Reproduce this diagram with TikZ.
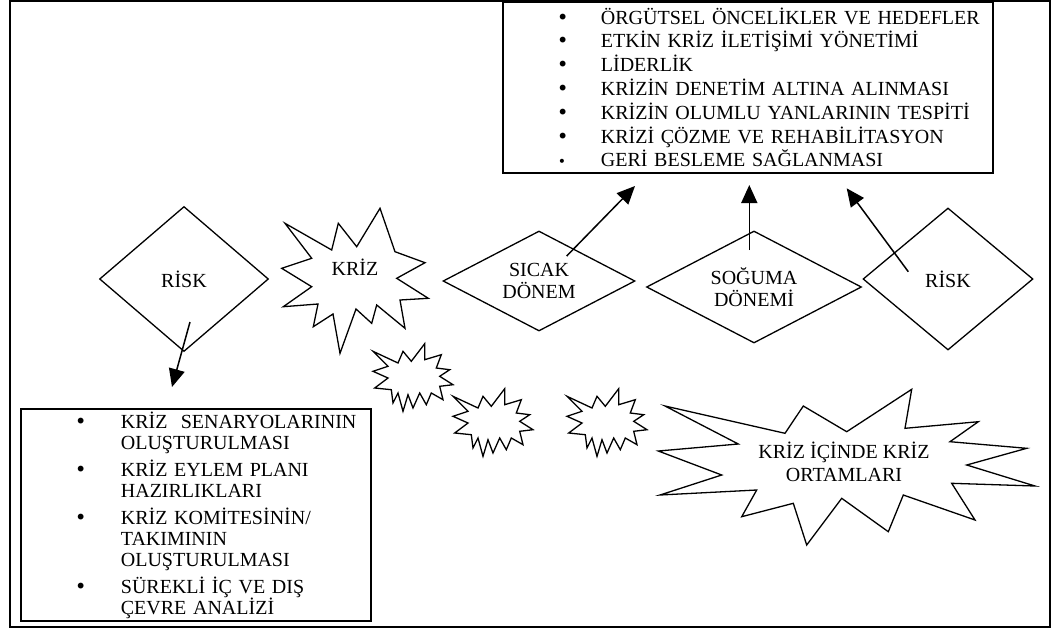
\documentclass[tikz,border=0pt]{standalone}
\usepackage{fontspec}
\setmainfont{Liberation Serif}
\newfontfamily\dotfont{DejaVu Sans}
\usetikzlibrary{shapes.geometric,arrows.meta}

% list bullets: a round dot, and a smaller one
\newcommand\bigdot{{\dotfont\fontsize{20}{20}\selectfont •}}
\newcommand\smalldot{{\dotfont\fontsize{14}{14}\selectfont •}}

\begin{document}
\begin{tikzpicture}[x=1pt,y=-1pt,
  every node/.style={font=\fontsize{20}{21.5}\selectfont},
  outerframe/.style={line width=2.2pt},
  listbox/.style={draw,line width=1.8pt,inner sep=0pt,anchor=north west,align=left},
  phase/.style={diamond,draw,line width=1.3pt,inner sep=0pt,align=center},
  burst/.style={draw,line width=1.3pt,line join=miter},
  flow/.style={line width=1.5pt,-{Triangle[length=18pt,width=16pt]}},
  bursttext/.style={align=center,inner sep=0pt},
  smallburst/.pic={
    \draw[burst] (-40,-25.7) -- (-15,-14) -- (-10,-25.7) -- (-1.7,-15.7) -- (11.7,-33.3)
      -- (11.7,-17.3) -- (28.3,-22.3) -- (23.3,-9) -- (36.7,-7.3) -- (26.7,-0.7)
      -- (40,7.7) -- (26.7,9.3) -- (30,22.7) -- (18.3,16) -- (13.3,27.7) -- (6.7,16)
      -- (0,31) -- (-5,17.7) -- (-10,34.3) -- (-15,16) -- (-20,26) -- (-21.7,12.7)
      -- (-38.3,11) -- (-25,1) -- (-40,-5.7) -- (-25,-10.7) -- cycle;
  }
]
\useasboundingbox (0,0) rectangle (1052,630);
\draw[outerframe] (10,1) rectangle (1050,627);

% goals and actions of the crisis
\node[listbox,minimum width=490pt,minimum height=171pt,text width=490pt,
      font=\fontsize{20}{23.8}\selectfont] (goals) at (502,1)
{\hspace*{54pt}\makebox[44pt][l]{\bigdot}ÖRGÜTSEL ÖNCELİKLER VE HEDEFLER\\
 \hspace*{54pt}\makebox[44pt][l]{\bigdot}ETKİN KRİZ İLETİŞİMİ YÖNETİMİ\\
 \hspace*{54pt}\makebox[44pt][l]{\bigdot}LİDERLİK\\
 \hspace*{54pt}\makebox[44pt][l]{\bigdot}KRİZİN DENETİM ALTINA ALINMASI\\
 \hspace*{54pt}\makebox[44pt][l]{\bigdot}KRİZİN OLUMLU YANLARININ TESPİTİ\\
 \hspace*{54pt}\makebox[44pt][l]{\bigdot}KRİZİ ÇÖZME VE REHABİLİTASYON\\
 \hspace*{55pt}\makebox[43pt][l]{\smalldot}GERİ BESLEME SAĞLANMASI};

% preparation before the crisis
\node[listbox,minimum width=350pt,minimum height=212pt,text width=350pt,
      font=\fontsize{20}{21}\selectfont] (prep) at (20,408)
{\hspace*{54pt}\makebox[46pt][l]{\bigdot}KRİZ\ \ SENARYOLARININ\\
 \hspace*{100pt}OLUŞTURULMASI\\[6pt]
 \hspace*{54pt}\makebox[46pt][l]{\bigdot}KRİZ EYLEM PLANI\\
 \hspace*{100pt}HAZIRLIKLARI\\[6pt]
 \hspace*{54pt}\makebox[46pt][l]{\bigdot}KRİZ KOMİTESİNİN/\\
 \hspace*{100pt}TAKIMININ\\
 \hspace*{100pt}OLUŞTURULMASI\\[6pt]
 \hspace*{54pt}\makebox[46pt][l]{\bigdot}SÜREKLİ İÇ VE DIŞ\\
 \hspace*{100pt}ÇEVRE ANALİZİ};

% phases
\node[phase,aspect=1.17,minimum width=169pt,minimum height=145pt] (riskA) at (184,279) {RİSK};
\node[phase,aspect=1.92,minimum width=192pt,minimum height=100pt] (hot) at (539,281) {SICAK\\DÖNEM};
\node[phase,aspect=1.92,minimum width=215pt,minimum height=112pt] (cool) at (754,287) {SOĞUMA\\DÖNEMİ};
\node[phase,aspect=1.2,minimum width=170pt,minimum height=142pt] (riskB) at (948,279) {RİSK};

% the crisis burst
\draw[burst] (380,208.3) -- (395,251.7) -- (425,262.7) -- (396.7,278.3) -- (428.3,298.3)
  -- (400,300) -- (405,328.3) -- (376.7,305) -- (371.7,323.3) -- (356,309)
  -- (340,353.3) -- (333,314) -- (313.3,326.7) -- (318,304) -- (283.3,306.7)
  -- (311.7,286.7) -- (281.7,268.3) -- (311.7,258.3) -- (285,223.3) -- (331.7,250)
  -- (338.3,223.3) -- (356.7,246.7) -- cycle;
\node[bursttext] (krizText) at (355,267) {KRİZ};

% small bursts leading to the nested crises
\pic (burstA) at (413,377) {smallburst};
\pic (burstB) at (493,422) {smallburst};
\pic (burstC) at (607,422) {smallburst};

% crisis within crisis
\draw[burst] (665,406) -- (738.3,444) -- (658.3,451) -- (721.7,475) -- (660,495)
  -- (756.7,490) -- (741.7,516.7) -- (793.3,503.3) -- (806.7,545) -- (841.7,498.3)
  -- (888.3,531.7) -- (903.3,495) -- (975,520) -- (951.7,483.3) -- (1035,486)
  -- (966.7,465) -- (1026.7,448.3) -- (950,441.7) -- (978.3,421.7) -- (905,428.3)
  -- (911.7,389.3) -- (846.7,431.7) -- (803.3,406) -- (785,433.3) -- cycle;
\node[bursttext,font=\fontsize{20}{23.5}\selectfont] (nestedText) at (844,462)
  {KRİZ İÇİNDE KRİZ\\ORTAMLARI};

% connectors
\coordinate (riskA-tail) at (190,322);
\coordinate (prep-head) at (172,387);
\coordinate (hot-tail) at (566.7,256);
\coordinate (goals-headA) at (635,186);
\coordinate (cool-tail) at (749.3,250);
\coordinate (goals-headB) at (749.3,185);
\coordinate (riskB-tail) at (908.3,271.7);
\coordinate (goals-headC) at (846.7,188.3);

\draw[flow] (riskA-tail) -- (prep-head);
\draw[flow] (hot-tail) -- (goals-headA);
\draw[flow] (cool-tail) -- (goals-headB);
\draw[flow] (riskB-tail) -- (goals-headC);
\end{tikzpicture}
\end{document}
